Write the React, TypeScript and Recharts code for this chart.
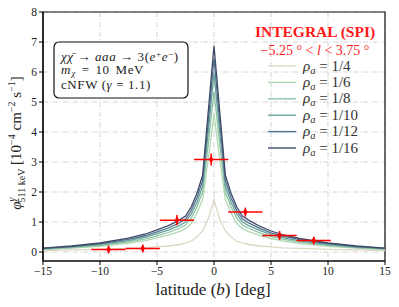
import React from 'react';
import {
  ComposedChart, Line, Scatter, ErrorBar, XAxis, YAxis, CartesianGrid, Legend, ReferenceArea,
} from 'recharts';

// latitude samples (deg)
const latitudes = [-15, -12.5, -10, -7.5, -6, -5, -4, -3, -2.5, -2, -1.5, -1, -0.5, 0, 0.5, 1, 1.5, 2, 2.5, 3, 4, 5, 6, 7.5, 10, 12.5, 15];

// model curves, phi in 1e-4 cm^-2 s^-1
const rho4 = [0.05, 0.07, 0.09, 0.12, 0.14, 0.17, 0.2, 0.25, 0.3, 0.36, 0.5, 0.7, 1.1, 1.73, 1.1, 0.7, 0.5, 0.36, 0.3, 0.25, 0.2, 0.17, 0.14, 0.12, 0.09, 0.07, 0.05];
const rho6 = [0.08, 0.13, 0.19, 0.29, 0.38, 0.47, 0.56, 0.69, 0.78, 0.95, 1.3, 1.75, 3.1, 4.6, 3.1, 1.75, 1.3, 0.95, 0.78, 0.69, 0.55, 0.45, 0.37, 0.28, 0.19, 0.13, 0.08];
const rho8 = [0.1, 0.15, 0.22, 0.34, 0.44, 0.54, 0.65, 0.8, 0.9, 1.13, 1.5, 2.0, 3.6, 5.35, 3.6, 2.0, 1.5, 1.13, 0.9, 0.8, 0.64, 0.52, 0.43, 0.33, 0.22, 0.15, 0.1];
const rho10 = [0.11, 0.17, 0.25, 0.38, 0.5, 0.61, 0.73, 0.89, 1.0, 1.26, 1.65, 2.2, 4.0, 5.95, 4.0, 2.2, 1.65, 1.26, 1.0, 0.89, 0.72, 0.58, 0.48, 0.37, 0.25, 0.17, 0.11];
const rho12 = [0.12, 0.18, 0.28, 0.42, 0.55, 0.67, 0.8, 0.98, 1.1, 1.38, 1.8, 2.38, 4.35, 6.45, 4.35, 2.38, 1.8, 1.38, 1.1, 0.98, 0.79, 0.64, 0.53, 0.41, 0.28, 0.18, 0.12];
const rho16 = [0.13, 0.2, 0.3, 0.46, 0.6, 0.74, 0.88, 1.07, 1.2, 1.5, 1.95, 2.55, 4.7, 6.87, 4.7, 2.55, 1.95, 1.5, 1.2, 1.07, 0.86, 0.7, 0.58, 0.45, 0.3, 0.2, 0.13];

// INTEGRAL (SPI) points
const spiLat = [-9.25, -6.25, -3.25, -0.25, 2.75, 5.75, 8.75];
const spiFlux = [0.08, 0.12, 1.06, 3.08, 1.33, 0.55, 0.38];
const spiLatErr = [1.5, 1.5, 1.5, 1.5, 1.5, 1.5, 1.5];
const spiFluxErr = [0.13, 0.13, 0.17, 0.2, 0.15, 0.15, 0.13];

const xTicks = [-15, -10, -5, 0, 5, 10, 15];
const yTicks = [0, 1, 2, 3, 4, 5, 6, 7, 8];

const series = [
  { key: 'r4', name: '1/4', values: rho4, color: '#ddd7c4' },
  { key: 'r6', name: '1/6', values: rho6, color: '#b2d8b2' },
  { key: 'r8', name: '1/8', values: rho8, color: '#8dc3a6' },
  { key: 'r10', name: '1/10', values: rho10, color: '#6aa39d' },
  { key: 'r12', name: '1/12', values: rho12, color: '#50738e' },
  { key: 'r16', name: '1/16', values: rho16, color: '#3d4966' },
];

const curveData = latitudes.map((b, i) => {
  const row: any = { b };
  series.forEach(s => { row[s.key] = s.values[i]; });
  return row;
});

const spiData = spiLat.map((b, i) => ({ b, v: spiFlux[i], xe: spiLatErr[i], ye: spiFluxErr[i] }));

const SERIF = '"Liberation Serif", "Times New Roman", serif';
const fmt = (v: number) => (v < 0 ? '\u2212' + Math.abs(v) : String(v));

const Marker = (props: any) => {
  const { cx, cy } = props;
  return <path d={`M${cx},${cy - 4} L${cx + 2.3},${cy} L${cx},${cy + 4} L${cx - 2.3},${cy} Z`} fill="#ff0000" />;
};

const renderLegend = (props: any) => {
  const order = series.map(s => s.name);
  const items = (props.payload || [])
    .filter((p: any) => order.includes(p.value))
    .sort((a: any, b: any) => order.indexOf(a.value) - order.indexOf(b.value));
  return (
    <svg width={140} height={140} style={{ position: 'absolute', left: 0, top: 0, overflow: 'visible' }}>
      <text x={65} y={17} textAnchor="middle" fill="#ff1a1a" fontFamily={SERIF} fontWeight="bold" fontSize={15.5}>INTEGRAL (SPI)</text>
      <text x={65} y={35} textAnchor="middle" fill="#ff1a1a" fontFamily={SERIF} fontSize={14}>
        {'\u22125.25 \u00b0 < '}<tspan fontStyle="italic">l</tspan>{' < 3.75 \u00b0'}
      </text>
      {items.map((p: any, i: number) => {
        const y = 46 + i * 16.4;
        return (
          <g key={p.value}>
            <line x1={18} x2={46} y1={y} y2={y} stroke={p.color} strokeWidth={1.4} />
            <text x={53} y={y + 4.5} fill="#333" fontFamily={SERIF} fontSize={15}>
              <tspan fontStyle="italic">{'\u03c1'}</tspan>
              <tspan fontStyle="italic" fontSize={10.5} dy={3}>a</tspan>
              <tspan dy={-3}>{' = ' + p.value}</tspan>
            </text>
          </g>
        );
      })}
    </svg>
  );
};

export default function App() {
  return (
    <div style={{ position: 'absolute', left: 0, top: 0, width: 399, height: 307, background: '#fff' }}>
      <ComposedChart width={399} height={307} data={curveData} margin={{ top: 12, right: 14, left: 0, bottom: 0 }}>
        <CartesianGrid stroke="#cfcfcf" strokeDasharray="5 2 1 2" strokeWidth={0.9} />
        <XAxis
          dataKey="b" type="number" domain={[-15, 15]} ticks={xTicks} allowDataOverflow
          height={46} tickFormatter={fmt} tickSize={4}
          axisLine={{ stroke: '#333', strokeWidth: 1.5 }} tickLine={{ stroke: '#000' }}
          tick={{ fill: '#222', fontFamily: SERIF, fontSize: 11.5 }}
        />
        <YAxis
          type="number" domain={[-0.3, 8]} ticks={yTicks} allowDataOverflow
          width={43} tickSize={4}
          axisLine={{ stroke: '#000', strokeWidth: 1.2 }} tickLine={{ stroke: '#000' }}
          tick={{ fill: '#222', fontFamily: SERIF, fontSize: 11.5 }}
        />
        {series.map(s => (
          <Line key={s.key} dataKey={s.key} name={s.name} stroke={s.color} strokeWidth={1.3}
            dot={false} activeDot={false} isAnimationActive={false} type="linear" />
        ))}
        <Scatter data={spiData} dataKey="v" fill="#ff0000" shape={<Marker />} legendType="none" isAnimationActive={false}>
          <ErrorBar dataKey="xe" direction="x" width={0} stroke="#ff0000" strokeWidth={1.5} />
          <ErrorBar dataKey="ye" direction="y" width={0} stroke="#ff0000" strokeWidth={1.5} />
        </Scatter>
        <ReferenceArea x1={-15} x2={15} y1={-0.3} y2={8} fill="none" stroke="#111" strokeWidth={1.2} ifOverflow="visible" />
        <Legend content={renderLegend} wrapperStyle={{ position: 'absolute', left: 250, top: 20, width: 0, height: 0, overflow: 'visible' }} />
      </ComposedChart>
      <svg width={399} height={307} style={{ position: 'absolute', left: 0, top: 0, pointerEvents: 'none' }}>
        <rect x={54} y={42} width={134} height={56} rx={5} fill="#fff" stroke="#111" strokeWidth={1.2} />
        <text x={61} y={60.5} fontFamily={SERIF} fontSize={13} letterSpacing={0.6} fill="#222">
          <tspan fontStyle="italic">{'\u03c7\u03c7\u0304'}</tspan>{' \u2192 '}<tspan fontStyle="italic">aaa</tspan>{' \u2192 3('}
          <tspan fontStyle="italic">e</tspan><tspan fontSize={9} dy={-4}>+</tspan>
          <tspan fontStyle="italic" dy={4}>e</tspan><tspan fontSize={9} dy={-4}>{'\u2212'}</tspan><tspan dy={4}>)</tspan>
        </text>
        <text x={61} y={74} fontFamily={SERIF} fontSize={13} letterSpacing={0.6} wordSpacing={2} fill="#222">
          <tspan fontStyle="italic">m</tspan><tspan fontStyle="italic" fontSize={8.5} dx={0.5} dy={1.5}>{'\u03c7'}</tspan>
          <tspan dy={-1.5}>{' = 10 MeV'}</tspan>
        </text>
        <text x={61} y={88.5} fontFamily={SERIF} fontSize={13} letterSpacing={0.6} fill="#222">
          {'cNFW ('}<tspan fontStyle="italic">{'\u03b3'}</tspan>{' = 1.1)'}
        </text>
        <text transform="translate(21,143) rotate(-90)" textAnchor="middle" fontFamily={SERIF} fontSize={15} fill="#222">
          <tspan fontStyle="italic">{'\u03c6'}</tspan>
          <tspan fontStyle="italic" fontSize={10} dy={-6}>{'\u03b3'}</tspan>
          <tspan fontSize={10} dx={-5} dy={10}>511 keV</tspan>
          <tspan dy={-4}>{' [10'}</tspan>
          <tspan fontSize={10} dy={-6}>{'\u22124'}</tspan>
          <tspan dy={6}>{' cm'}</tspan>
          <tspan fontSize={10} dy={-6}>{'\u22122'}</tspan>
          <tspan dy={6}>{' s'}</tspan>
          <tspan fontSize={10} dy={-6}>{'\u22121'}</tspan>
          <tspan dy={6}>]</tspan>
        </text>
        <text x={213} y={295} textAnchor="middle" fontFamily={SERIF} fontSize={17} fill="#222">
          {'latitude ('}<tspan fontStyle="italic">b</tspan>{') [deg]'}
        </text>
      </svg>
    </div>
  );
}
